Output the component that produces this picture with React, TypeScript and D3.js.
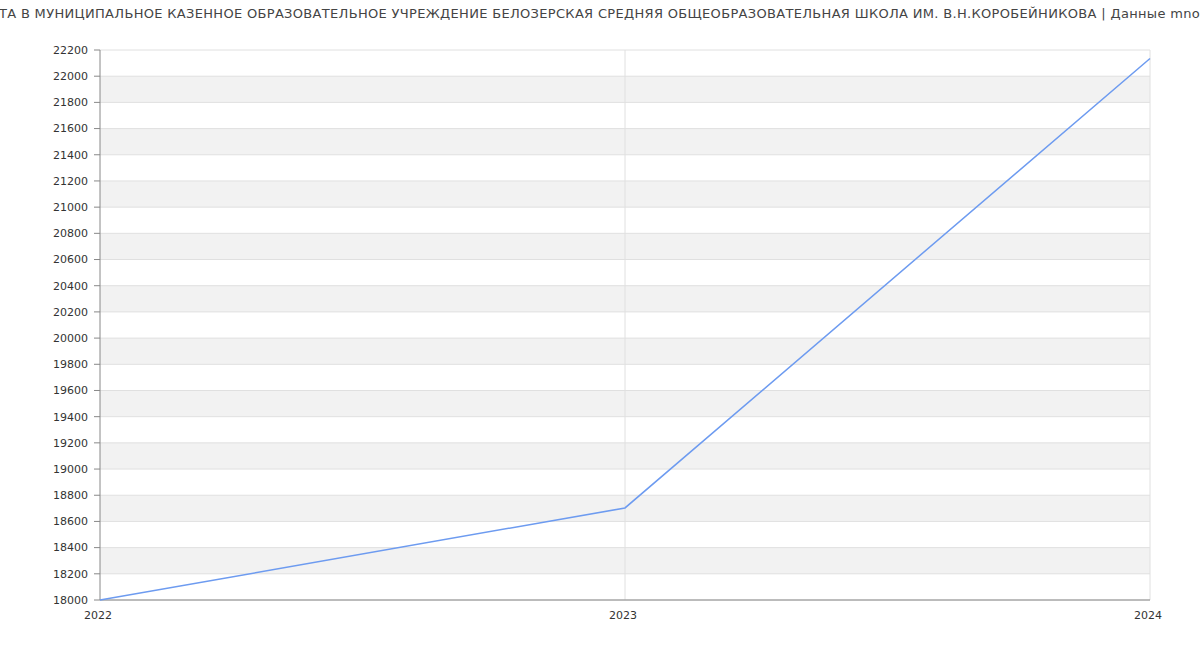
import React, { useLayoutEffect, useRef, useState } from "react";
import * as d3 from "d3";

const years = [2022, 2023, 2024];
const salaries = [18000, 18703, 22135];
const yTicks = d3.range(18000, 22201, 200);
const titlePrefix = "СРЕДНЯЯ ЗАРПЛА";
const titleVisible =
  "ТА В МУНИЦИПАЛЬНОЕ КАЗЕННОЕ ОБРАЗОВАТЕЛЬНОЕ УЧРЕЖДЕНИЕ БЕЛОЗЕРСКАЯ СРЕДНЯЯ ОБЩЕОБРАЗОВАТЕЛЬНАЯ ШКОЛА ИМ. В.Н.КОРОБЕЙНИКОВА | Данные mno";
const titleSuffix = "go-zarplat.ru";
const titleText = titlePrefix + titleVisible + titleSuffix;

const W = 1200;
const H = 650;
const m = { left: 100, right: 50, top: 50, bottom: 50 };

export default function App() {
  const titleRef = useRef<SVGTextElement>(null);
  const [titleLayout, setTitleLayout] = useState({ x: W / 2, ls: 0, anchor: "middle" });

  useLayoutEffect(() => {
    const el = titleRef.current;
    if (!el || titleLayout.anchor !== "middle") return;
    try {
      const visLen = el.getSubStringLength(titlePrefix.length, titleVisible.length);
      const preLen = el.getSubStringLength(0, titlePrefix.length);
      const ls = (1201 - visLen) / titleVisible.length;
      const pre = preLen + ls * titlePrefix.length;
      setTitleLayout({ x: -1 - pre, ls, anchor: "start" });
    } catch (e) {
      // keep default
    }
  }, [titleLayout.anchor]);

  const x = d3.scaleLinear().domain([2022, 2024]).range([m.left, W - m.right]);
  const y = d3.scaleLinear().domain([18000, 22200]).range([H - m.bottom, m.top]);
  const line = d3
    .line<number>()
    .x((_, i) => x(years[i]))
    .y((d) => y(d));
  const font = "'DejaVu Sans', sans-serif";
  return (
    <svg
      width={W}
      height={H}
      style={{ position: "absolute", left: 0, top: 0, background: "#fff" }}
    >
      {yTicks.slice(0, -1).map((t, i) =>
        i % 2 === 1 ? (
          <rect
            key={"b" + t}
            x={m.left}
            y={y(t + 200)}
            width={W - m.right - m.left}
            height={y(t) - y(t + 200)}
            fill="#f2f2f2"
          />
        ) : null
      )}
      {yTicks.map((t) => (
        <line
          key={"g" + t}
          x1={m.left}
          x2={W - m.right}
          y1={y(t)}
          y2={y(t)}
          stroke="#e0e0e0"
          strokeWidth={1}
        />
      ))}
      {years.slice(1).map((yr) => (
        <line
          key={"v" + yr}
          x1={x(yr)}
          x2={x(yr)}
          y1={m.top}
          y2={H - m.bottom}
          stroke="#e0e0e0"
          strokeWidth={1}
        />
      ))}
      <line x1={m.left} x2={m.left} y1={m.top} y2={H - m.bottom} stroke="#888" />
      <line x1={m.left} x2={W - m.right} y1={H - m.bottom} y2={H - m.bottom} stroke="#888" />
      {yTicks.map((t) => (
        <g key={"t" + t}>
          <line x1={m.left - 6} x2={m.left} y1={y(t)} y2={y(t)} stroke="#888" />
          <text
            x={m.left - 12}
            y={y(t)}
            dy="0.35em"
            textAnchor="end"
            fontFamily={font}
            fontSize={11}
            fill="#333"
          >
            {t}
          </text>
        </g>
      ))}
      {years.map((yr) => (
        <text
          key={"x" + yr}
          x={x(yr) - 2}
          y={H - m.bottom + 19}
          textAnchor="middle"
          fontFamily={font}
          fontSize={11}
          fill="#333"
        >
          {yr}
        </text>
      ))}
      <path
        d={line(salaries) || ""}
        fill="none"
        stroke="#6d9bf0"
        strokeWidth={1.5}
      />
      <text
        ref={titleRef}
        x={titleLayout.x}
        y={18}
        textAnchor={titleLayout.anchor}
        fontFamily={font}
        fontSize={13}
        letterSpacing={titleLayout.ls}
        fill="#444"
      >
        {titleText}
      </text>
    </svg>
  );
}
